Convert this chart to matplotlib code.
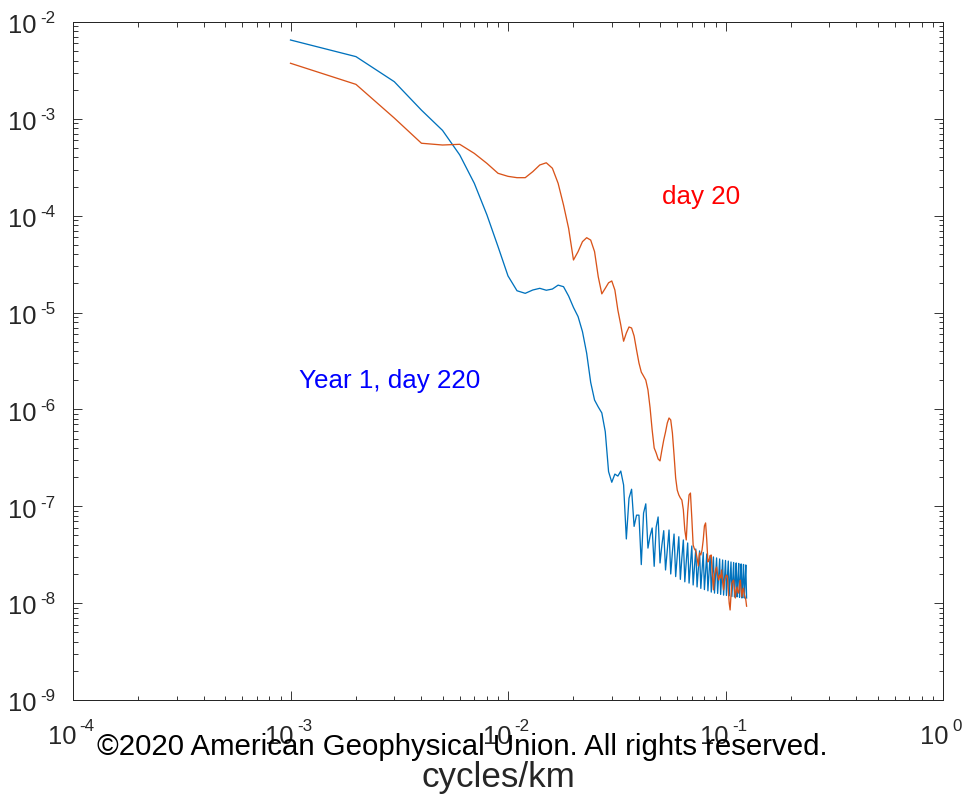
import numpy as np
import matplotlib
matplotlib.use("Agg")
import matplotlib.pyplot as plt
from matplotlib.ticker import LogLocator, NullFormatter

# Wavenumber grid: 1000 km domain, modes 1..125 (Nyquist 0.125 cycles/km)
mode_number = np.arange(1, 126)
wavenumber = mode_number * 1e-3  # cycles/km

# Spectrum, year 1 day 220
spec_year1_day220 = [
    6.52e-3, 4.39e-3, 2.42e-3, 1.23e-3, 7.6e-4, 4.24e-4, 2.16e-4, 1.02e-4, 4.79e-5, 2.39e-5,
    1.68e-5, 1.58e-5, 1.71e-5, 1.78e-5, 1.70e-5, 1.75e-5, 1.92e-5, 1.85e-5, 1.48e-5, 1.13e-5,
    9.08e-6, 6.35e-6, 3.8e-6, 1.9e-6, 1.25e-6, 1.06e-6, 9.2e-7, 5.9e-7, 2.28e-7, 1.77e-7,
    2.15e-7, 2.05e-7, 2.31e-7, 1.66e-7, 4.6e-8, 1.21e-7, 1.5e-7, 6.2e-8, 8.1e-8, 8.1e-8,
    2.5e-8, 8.5e-8, 1.06e-7, 3.7e-8, 4.93e-8, 5.97e-8, 2.4e-8, 6.1e-8, 7.76e-8, 2.6e-8,
    3.98e-8, 5.6e-8, 2.2e-8, 3.54e-8, 5.69e-8, 2.0e-8, 3.37e-8, 5.17e-8, 1.88e-8, 3.07e-8,
    4.85e-8, 1.76e-8, 2.93e-8, 4.49e-8, 1.66e-8,
    2.66e-8, 4.18e-8, 1.61e-8, 2.51e-8, 3.89e-8, 1.54e-8, 2.36e-8, 3.62e-8, 1.47e-8, 2.25e-8,
    3.46e-8, 1.42e-8, 2.17e-8, 3.34e-8, 1.38e-8, 2.10e-8, 3.22e-8, 1.34e-8, 2.05e-8, 3.11e-8,
    1.30e-8, 1.98e-8, 3.00e-8, 1.27e-8, 1.93e-8, 2.93e-8, 1.26e-8, 1.91e-8, 2.86e-8, 1.23e-8,
    1.86e-8, 2.79e-8, 1.21e-8, 1.82e-8, 2.76e-8, 1.20e-8, 1.82e-8, 2.72e-8, 1.19e-8, 1.78e-8,
    2.66e-8, 1.17e-8, 1.75e-8, 2.63e-8, 1.16e-8, 1.73e-8, 2.60e-8, 1.16e-8, 1.73e-8, 2.57e-8,
    1.15e-8, 1.69e-8, 2.54e-8, 1.13e-8, 1.69e-8, 2.51e-8, 1.13e-8, 1.67e-8, 2.48e-8, 1.13e-8,
]

# Spectrum, day 20
spec_day20 = [
    3.75e-3, 2.27e-3, 1.02e-3, 5.6e-4, 5.37e-4, 5.46e-4, 4.4e-4, 3.47e-4, 2.74e-4, 2.55e-4,
    2.47e-4, 2.47e-4, 2.85e-4, 3.34e-4, 3.52e-4, 3.09e-4, 2.16e-4, 1.29e-4, 7.4e-5, 3.49e-5,
    4.26e-5, 5.4e-5, 5.93e-5, 5.6e-5, 4.26e-5, 2.34e-5, 1.56e-5, 1.78e-5, 2.03e-5, 2.12e-5,
    1.71e-5, 1.06e-5, 7.45e-6, 5.06e-6, 6.15e-6, 7.1e-6, 6.93e-6, 5.73e-6, 4.11e-6, 3.02e-6,
    2.43e-6, 2.21e-6, 2.01e-6, 1.59e-6, 1.04e-6, 6.14e-7, 4.0e-7, 3.55e-7, 3.08e-7, 2.94e-7,
    3.81e-7, 4.83e-7, 5.85e-7, 7.24e-7, 8.16e-7, 7.78e-7, 5.71e-7, 3.39e-7, 1.96e-7, 1.47e-7,
    1.31e-7, 1.22e-7, 1.16e-7, 9.2e-8, 5.69e-8, 4.49e-8, 8.7e-8, 1.31e-7, 1.37e-7, 7.57e-8,
    3.98e-8, 3.62e-8, 3.46e-8, 2.93e-8, 2.42e-8, 3.3e-8, 3.14e-8, 3.54e-8, 4.49e-8, 6.27e-8,
    6.73e-8, 4.49e-8, 2.66e-8, 2.79e-8, 3.07e-8, 3.14e-8, 1.95e-8, 1.37e-8, 1.95e-8, 2.2e-8,
    2.36e-8, 1.95e-8, 1.73e-8, 1.95e-8, 1.82e-8, 2.2e-8, 1.65e-8, 1.37e-8, 1.73e-8, 1.86e-8,
    1.95e-8, 1.9e-8, 1.37e-8, 1.0e-8, 8.5e-9, 1.21e-8, 1.61e-8, 1.69e-8, 1.73e-8, 1.37e-8,
    1.13e-8, 1.37e-8, 1.47e-8, 1.3e-8, 1.27e-8, 1.54e-8, 1.73e-8, 1.37e-8, 1.16e-8, 1.37e-8,
    1.43e-8, 1.24e-8, 1.16e-8, 1.08e-8, 9.3e-9,
]

x_decades = [-4, -3, -2, -1, 0]
y_decades = [-2, -3, -4, -5, -6, -7, -8, -9]

W, H, DPI = 966, 797, 72
plt.rcParams['font.family'] = ['Liberation Sans', 'DejaVu Sans']
INK = '#262626'

fig = plt.figure(figsize=(W / DPI, H / DPI), dpi=DPI)
ax = fig.add_axes([73 / W, 1 - 700 / H, 870 / W, 678 / H])

ax.plot(wavenumber, spec_year1_day220, color='#0072BD', lw=1.3)
ax.plot(wavenumber, spec_day20, color='#D95319', lw=1.3)

ax.set_xscale('log')
ax.set_yscale('log')
ax.set_xlim(1e-4, 1e0)
ax.set_ylim(1e-9, 1e-2)

for axis in (ax.xaxis, ax.yaxis):
    axis.set_major_locator(LogLocator(base=10, numticks=20))
    axis.set_minor_locator(LogLocator(base=10, subs=np.arange(2, 10), numticks=20))
    axis.set_minor_formatter(NullFormatter())

ax.tick_params(which='both', direction='in', top=True, right=True,
               labelbottom=False, labelleft=False, color=INK, width=0.9)
ax.tick_params(which='major', length=9)
ax.tick_params(which='minor', length=4.5)
for sp in ax.spines.values():
    sp.set_color(INK)
    sp.set_linewidth(1.0)

# Power-of-ten tick labels drawn as base + raised exponent
TICK_FS = 25.5
EXP_FS = 17
GAP = 3.3


def exp_text(e):
    return '0' if e == 0 else f'-{abs(e)}'


def exp_width(s):
    return sum(0.333 if c == '-' else 0.556 for c in s) * EXP_FS


for e in y_decades:
    ax.annotate('10', xy=(0, 10.0 ** e), xycoords=('axes fraction', 'data'),
                xytext=(-36.3, -11.3), textcoords='offset points',
                ha='right', va='baseline', fontsize=TICK_FS, color=INK,
                annotation_clip=False)
    ax.annotate(exp_text(e), xy=(0, 10.0 ** e), xycoords=('axes fraction', 'data'),
                xytext=(-33.0, -1.3), textcoords='offset points',
                ha='left', va='baseline', fontsize=EXP_FS, color=INK,
                annotation_clip=False)

ten_w = 1.112 * TICK_FS
for e in x_decades:
    s = exp_text(e)
    total = ten_w + GAP + exp_width(s)
    left = -total / 2 - 2
    ax.annotate('10', xy=(10.0 ** e, 0), xycoords=('data', 'axes fraction'),
                xytext=(left, -44), textcoords='offset points',
                ha='left', va='baseline', fontsize=TICK_FS, color=INK,
                annotation_clip=False)
    ax.annotate(s, xy=(10.0 ** e, 0), xycoords=('data', 'axes fraction'),
                xytext=(left + ten_w + GAP, -31), textcoords='offset points',
                ha='left', va='baseline', fontsize=EXP_FS, color=INK,
                annotation_clip=False)

ax.text(0.0511, 1.32e-4, 'day 20', color='#FF0000', fontsize=26,
        ha='left', va='baseline')
ax.text(1.094e-3, 1.66e-6, 'Year 1, day 220', color='#0000FF', fontsize=26,
        ha='left', va='baseline')

fig.text(498 / W, 1 - 787 / H, 'cycles/km', fontsize=35, color=INK,
         ha='center', va='baseline')
fig.text(97 / W, 1 - 755 / H, '©2020 American Geophysical Union. All rights reserved.',
         fontsize=29.4, color='black', ha='left', va='baseline')

fig.savefig('out.png', dpi=DPI)
